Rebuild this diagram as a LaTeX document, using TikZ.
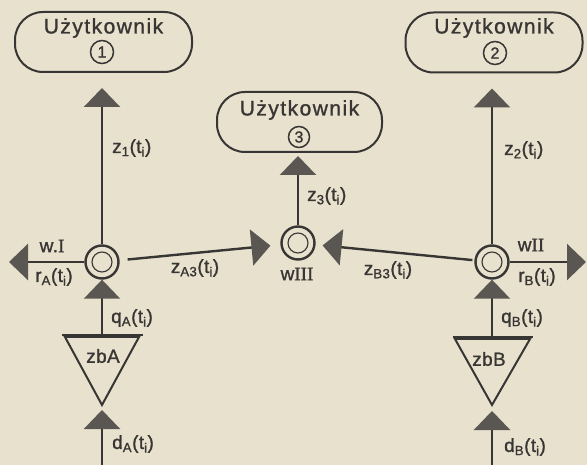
\documentclass[tikz,border=0pt]{standalone}
\usepackage{fontspec}
\setmainfont{Liberation Sans}[FakeBold=1.2]
\newfontfamily\romfont{Liberation Serif}[FakeBold=1.5]
\usetikzlibrary{arrows.meta,calc}
\definecolor{paper}{HTML}{E8E1CD}
\definecolor{ink}{HTML}{383634}
\definecolor{tipgray}{HTML}{5A5753}
\newcommand{\rn}[1]{{\romfont #1}}
\begin{document}
\begin{tikzpicture}[x=1pt,y=-1pt,
  arr/.style={draw=ink, line width=2.4pt, -{Triangle[width=36pt,length=19pt,color=tipgray]}},
  userbox/.style={draw=ink, line width=2pt, rounded corners=28pt, minimum width=177pt, minimum height=60pt, inner sep=0pt},
  utext/.style={font=\fontsize{21}{23}\selectfont\addfontfeature{LetterSpace=7}, text=ink, inner sep=0pt},
  circnum/.style={circle, draw=ink, line width=1.5pt, minimum size=23pt, inner sep=0pt, font=\fontsize{16}{16}\selectfont, text=ink},
  junc/.style={circle, draw=ink, line width=2.4pt, minimum size=33pt, inner sep=0pt},
  lab/.style={font=\fontsize{19}{21}\selectfont\addfontfeature{LetterSpace=2}, text=ink, inner sep=0pt},
  edge/.style={draw=ink, line width=2.4pt},
  tri/.style={draw=ink, line width=2pt, line join=miter}
]
\useasboundingbox (0,0) rectangle (587,465);
\fill[paper] (0,0) rectangle (587,465);

% user boxes
\node[userbox] (u1) at (103.5,42) {};
\node[utext] (u1t) at (103.5,28) {Użytkownik};
\node[circnum] (n1) at (102,52) {1};
\node[userbox] (u2) at (494,42.5) {};
\node[utext] (u2t) at (494,28) {Użytkownik};
\node[circnum] (n2) at (495,53) {2};
\node[userbox, minimum width=165pt] (u3) at (299.5,122) {};
\node[utext] (u3t) at (299.5,110) {Użytkownik};
\node[circnum, minimum size=21pt] (n3) at (299,137) {3};

% junctions
\node[junc] (A) at (102,262) {};
\draw[ink, line width=1.1pt] (A.center) circle (10);
\node[junc] (C) at (298,243) {};
\draw[ink, line width=1.1pt] (C.center) circle (10);
\node[junc] (B) at (492,262) {};
\draw[ink, line width=1.1pt] (B.center) circle (10);

% free ends
\coordinate (Lend) at (9,262);
\coordinate (Rend) at (586,262);
\coordinate (dA) at (102,466);
\coordinate (dB) at (492,466);

% triangles (stores)
\coordinate (topA) at (102,335);
\coordinate (apexA) at (102,405);
\draw[tri] (65,337) -- (139,337) -- (apexA) -- cycle;
\draw[edge] (62,335) -- (143,335);
\node[lab] (zbA) at (103,356) {zbA};

\coordinate (topB) at (492,337);
\coordinate (apexB) at (492,405);
\draw[tri] (455,339) -- (530,339) -- (apexB) -- cycle;
\draw[edge] (453,337) -- (533,337);
\node[lab] (zbB) at (489,359) {zbB};

% connectors
\draw[arr, shorten >=15pt] (A) -- (A |- u1.south);
\draw[arr, shorten >=15pt] (B) -- (B |- u2.south);
\draw[arr, shorten >=3pt] (C) -- (C |- u3.south);
\draw[arr, shorten <=8pt, shorten >=10pt] (A) -- (C);
\draw[arr, shorten <=2pt, shorten >=7pt] (B) -- (C);
\draw[arr] (A) -- (Lend);
\draw[arr] (B) -- (Rend);
\draw[arr, shorten <=1pt] (topA) -- (A);
\draw[arr, shorten <=1pt] (topB) -- (B);
\draw[arr, shorten >=5pt] (dA) -- (apexA);
\draw[arr, shorten >=6pt] (dB) -- (apexB);

% labels
\node[lab, anchor=west] at (112,148) {z\textsubscript{1}(t\textsubscript{i})};
\node[lab, anchor=west] at (504,150) {z\textsubscript{2}(t\textsubscript{i})};
\node[lab, anchor=west] at (307,196) {z\textsubscript{3}(t\textsubscript{i})};
\node[lab] at (195,268) {z\textsubscript{A3}(t\textsubscript{i})};
\node[lab] at (388,270) {z\textsubscript{B3}(t\textsubscript{i})};
\node[lab] at (52,246) {w.\rn{I}};
\node[lab] at (54,277) {r\textsubscript{A}(t\textsubscript{i})};
\node[lab] at (531,245) {w\rn{II}};
\node[lab] at (537,277) {r\textsubscript{B}(t\textsubscript{i})};
\node[lab] at (297,274) {w\rn{III}};
\node[lab, anchor=west] at (111,318) {q\textsubscript{A}(t\textsubscript{i})};
\node[lab, anchor=west] at (501,318) {q\textsubscript{B}(t\textsubscript{i})};
\node[lab, anchor=west] at (112,444) {d\textsubscript{A}(t\textsubscript{i})};
\node[lab, anchor=west] at (504,447) {d\textsubscript{B}(t\textsubscript{i})};
\end{tikzpicture}
\end{document}
